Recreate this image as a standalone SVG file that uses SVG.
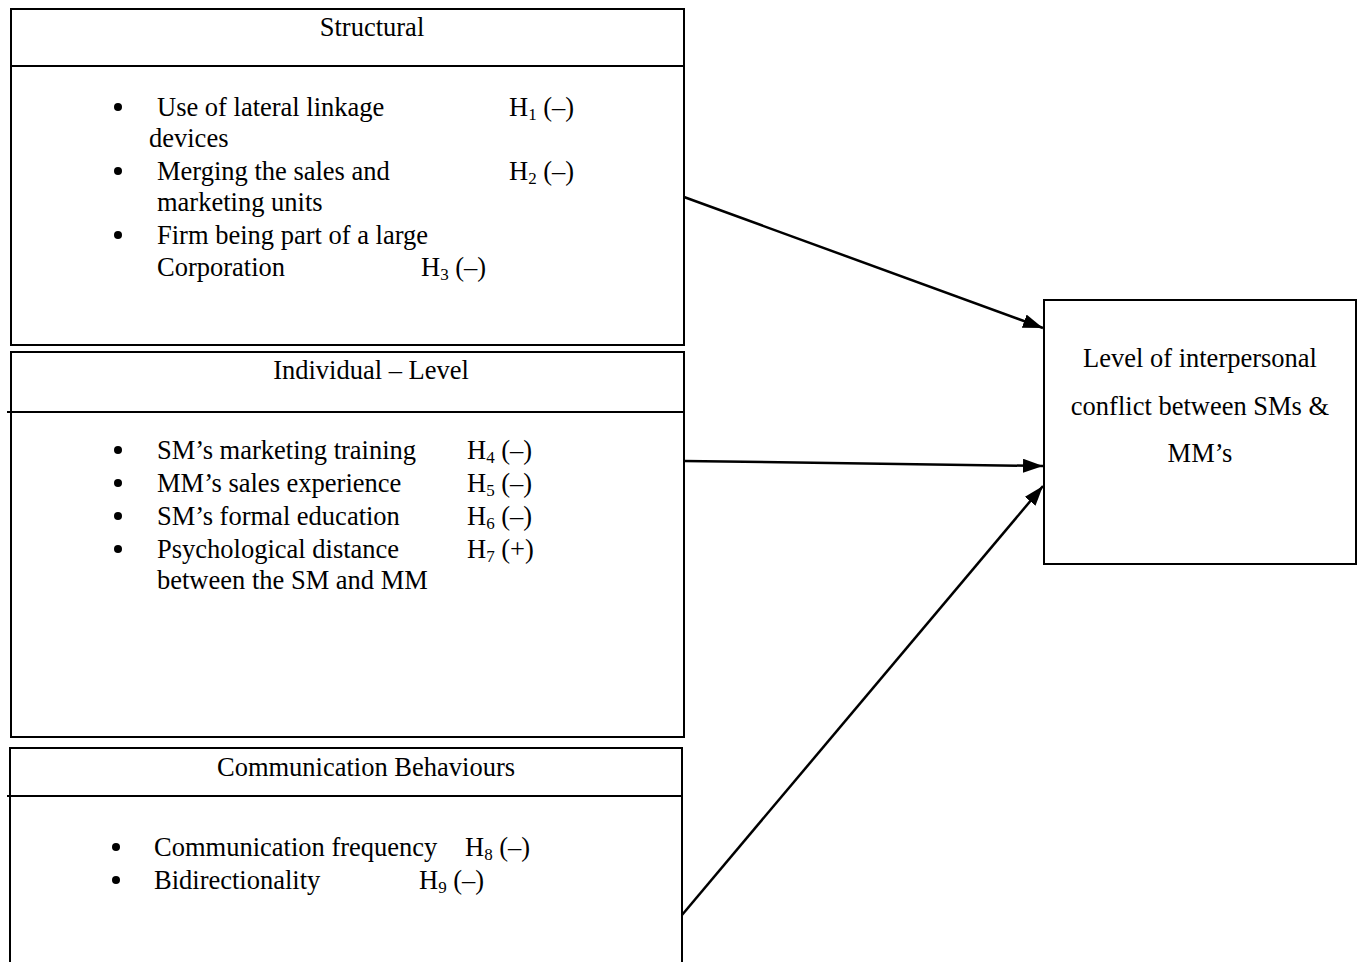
<svg xmlns="http://www.w3.org/2000/svg" width="1364" height="962" viewBox="0 0 1364 962">
<style>
text{font-family:'Liberation Serif','Times New Roman',Times,serif;font-size:26.5px;fill:#000}
.c{text-anchor:middle}
.b{stroke:#000;stroke-width:2;fill:none}
.s{font-size:17px}
.bl{fill:#000}
</style>
<defs>
<marker id="a" viewBox="0 0 20 14" refX="20" refY="7" markerWidth="20" markerHeight="14" orient="auto" markerUnits="userSpaceOnUse"><path d="M0,0 L20,7 L0,14 z" fill="#000"/></marker>
</defs>
<rect width="1364" height="962" fill="#fff"/>
<g id="structural">
<rect class="b" x="11" y="9" width="673" height="336"/>
<line class="b" x1="11" y1="66" x2="684" y2="66"/>
<text class="c" x="372" y="36">Structural</text>
<circle class="bl" cx="118" cy="107" r="4"/>
<text x="157" y="116">Use of lateral linkage</text>
<text x="509" y="116">H<tspan class="s" dy="4">1</tspan><tspan dy="-4"> (–)</tspan></text>
<text x="149" y="147">devices</text>
<circle class="bl" cx="118" cy="171" r="4"/>
<text x="157" y="180">Merging the sales and</text>
<text x="509" y="180">H<tspan class="s" dy="4">2</tspan><tspan dy="-4"> (–)</tspan></text>
<text x="157" y="211">marketing units</text>
<circle class="bl" cx="118" cy="235" r="4"/>
<text x="157" y="244">Firm being part of a large</text>
<text x="157" y="276">Corporation</text>
<text x="421" y="276">H<tspan class="s" dy="4">3</tspan><tspan dy="-4"> (–)</tspan></text>
</g>
<g id="individual">
<rect class="b" x="11" y="352" width="673" height="385"/>
<line class="b" x1="7" y1="412" x2="684" y2="412"/>
<text class="c" x="371" y="379">Individual – Level</text>
<circle class="bl" cx="118" cy="450" r="4"/>
<text x="157" y="459">SM’s marketing training</text>
<text x="467" y="459">H<tspan class="s" dy="4">4</tspan><tspan dy="-4"> (–)</tspan></text>
<circle class="bl" cx="118" cy="483" r="4"/>
<text x="157" y="492">MM’s sales experience</text>
<text x="467" y="492">H<tspan class="s" dy="4">5</tspan><tspan dy="-4"> (–)</tspan></text>
<circle class="bl" cx="118" cy="516" r="4"/>
<text x="157" y="525">SM’s formal education</text>
<text x="467" y="525">H<tspan class="s" dy="4">6</tspan><tspan dy="-4"> (–)</tspan></text>
<circle class="bl" cx="118" cy="549" r="4"/>
<text x="157" y="558">Psychological distance</text>
<text x="467" y="558">H<tspan class="s" dy="4">7</tspan><tspan dy="-4"> (+)</tspan></text>
<text x="157" y="589">between the SM and MM</text>
</g>
<g id="communication">
<path class="b" d="M10,962 L10,748 L682,748 L682,962"/>
<line class="b" x1="7" y1="796" x2="682" y2="796"/>
<text class="c" x="366" y="776">Communication Behaviours</text>
<circle class="bl" cx="116" cy="847" r="4"/>
<text x="154" y="856">Communication frequency</text>
<text x="465" y="856">H<tspan class="s" dy="4">8</tspan><tspan dy="-4"> (–)</tspan></text>
<circle class="bl" cx="116" cy="880" r="4"/>
<text x="154" y="889">Bidirectionality</text>
<text x="419" y="889">H<tspan class="s" dy="4">9</tspan><tspan dy="-4"> (–)</tspan></text>
</g>
<g id="outcome">
<rect class="b" x="1044" y="300" width="312" height="264"/>
<text class="c" x="1200" y="367">Level of interpersonal</text>
<text class="c" x="1200" y="415">conflict between SMs &amp;</text>
<text class="c" x="1200" y="462">MM’s</text>
</g>
<g id="connectors" stroke="#000" stroke-width="2.5" fill="none">
<line x1="684" y1="197" x2="1043" y2="328" marker-end="url(#a)"/>
<line x1="684" y1="461" x2="1043" y2="466" marker-end="url(#a)"/>
<line x1="682" y1="915" x2="1043" y2="486" marker-end="url(#a)"/>
</g>
</svg>
